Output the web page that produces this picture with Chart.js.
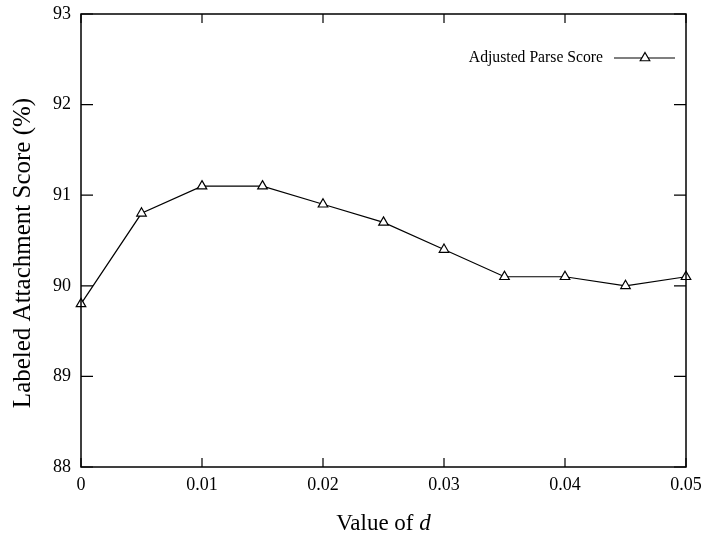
<!DOCTYPE html>
<html>
<head>
<meta charset="utf-8">
<script src="https://cdn.jsdelivr.net/npm/chart.js@4.4.1/dist/chart.umd.min.js"></script>
<style>
  html, body { margin: 0; padding: 0; background: #fff; }
  #wrap { width: 703px; height: 533px; }
</style>
</head>
<body>
<div id="wrap"><canvas id="lasChart" width="703" height="533"></canvas></div>
<script>
// values
const dValues = [0, 0.005, 0.01, 0.015, 0.02, 0.025, 0.03, 0.035, 0.04, 0.045, 0.05];
const lasScores = [89.8, 90.8, 91.1, 91.1, 90.9, 90.7, 90.4, 90.1, 90.1, 90.0, 90.1];
const seriesLabel = 'Adjusted Parse Score';
const xTicks = [0, 0.01, 0.02, 0.03, 0.04, 0.05];
const yTicks = [88, 89, 90, 91, 92, 93];
const yTitle = 'Labeled Attachment Score (%)';
const xTitle = 'Value of ';
const xTitleVar = 'd';

const serif = '"Liberation Serif", "DejaVu Serif", serif';

// gnuplot-like frame with inward ticks on all four sides, axis titles and the legend
const framePlugin = {
  id: 'frame',
  afterDraw(chart) {
    const { ctx, chartArea: a, scales } = chart;
    ctx.save();
    ctx.strokeStyle = '#000';
    ctx.lineWidth = 1.5;
    ctx.strokeRect(a.left, a.top, a.right - a.left, a.bottom - a.top);

    ctx.lineWidth = 1.2;
    ctx.beginPath();
    xTicks.forEach(v => {
      const x = scales.x.getPixelForValue(v);
      ctx.moveTo(x, a.bottom); ctx.lineTo(x, a.bottom - 9);
      ctx.moveTo(x, a.top); ctx.lineTo(x, a.top + 9);
    });
    yTicks.forEach(v => {
      const y = scales.y.getPixelForValue(v);
      ctx.moveTo(a.left, y); ctx.lineTo(a.left + 12, y);
      ctx.moveTo(a.right, y); ctx.lineTo(a.right - 12, y);
    });
    ctx.stroke();

    ctx.fillStyle = '#000';
    ctx.textBaseline = 'alphabetic';

    // x axis title: "Value of " + italic d
    ctx.font = '23px ' + serif;
    const w1 = ctx.measureText(xTitle).width;
    ctx.font = 'italic 23px ' + serif;
    const w2 = ctx.measureText(xTitleVar).width;
    const tx = (a.left + a.right) / 2 - (w1 + w2) / 2;
    ctx.textAlign = 'left';
    ctx.font = '23px ' + serif;
    ctx.fillText(xTitle, tx, 530);
    ctx.font = 'italic 23px ' + serif;
    ctx.fillText(xTitleVar, tx + w1, 530);

    // y axis title, rotated
    ctx.save();
    ctx.translate(30, 253);
    ctx.rotate(-Math.PI / 2);
    ctx.textAlign = 'center';
    ctx.font = '25px ' + serif;
    ctx.fillText(yTitle, 0, 0);
    ctx.restore();

    // legend: text on the left, line sample with marker on the right
    const ly = 58;
    ctx.textBaseline = 'middle';
    ctx.font = '15.7px ' + serif;
    ctx.textAlign = 'right';
    ctx.fillText(seriesLabel, 603, ly);
    ctx.lineWidth = 1.2;
    ctx.beginPath();
    ctx.moveTo(614, ly); ctx.lineTo(675, ly);
    ctx.stroke();
    ctx.fillStyle = '#fff';
    Chart.helpers.drawPoint(ctx, { pointStyle: 'triangle', radius: 5.5, rotation: 0, borderWidth: 1.2 }, 645, ly);
    ctx.restore();
  }
};

// keep the tick labels from pushing the plot area inwards
function noEdgePadding(scale) {
  scale.paddingLeft = 0;
  scale.paddingRight = 0;
  scale.paddingTop = 0;
  scale.paddingBottom = 0;
}

new Chart(document.getElementById('lasChart'), {
  type: 'line',
  data: {
    datasets: [{
      label: seriesLabel,
      data: dValues.map((d, i) => ({ x: d, y: lasScores[i] })),
      borderColor: '#000',
      borderWidth: 1.2,
      backgroundColor: '#fff',
      pointStyle: 'triangle',
      pointRadius: 5.5,
      pointBorderWidth: 1.2,
      pointBorderColor: '#000',
      pointBackgroundColor: '#fff',
      tension: 0,
      clip: false
    }]
  },
  options: {
    responsive: false,
    animation: false,
    layout: { autoPadding: false, padding: { left: 0, right: 17, top: 14, bottom: 0 } },
    plugins: {
      legend: { display: false },
      tooltip: { enabled: false }
    },
    scales: {
      x: {
        type: 'linear',
        min: 0,
        max: 0.05,
        afterFit(scale) { scale.height = 66; noEdgePadding(scale); },
        afterBuildTicks(scale) { scale.ticks = xTicks.map(v => ({ value: v })); },
        grid: { display: false, drawTicks: false },
        border: { display: false },
        ticks: {
          padding: 7,
          color: '#000',
          font: { family: serif, size: 18 },
          callback: v => String(Number(v.toFixed(3)))
        }
      },
      y: {
        min: 88,
        max: 93,
        afterFit(scale) { scale.width = 81; noEdgePadding(scale); },
        afterBuildTicks(scale) { scale.ticks = yTicks.map(v => ({ value: v })); },
        grid: { display: false, drawTicks: false },
        border: { display: false },
        ticks: {
          padding: 10,
          color: '#000',
          font: { family: serif, size: 18 }
        }
      }
    }
  },
  plugins: [framePlugin]
});
</script>
</body>
</html>
